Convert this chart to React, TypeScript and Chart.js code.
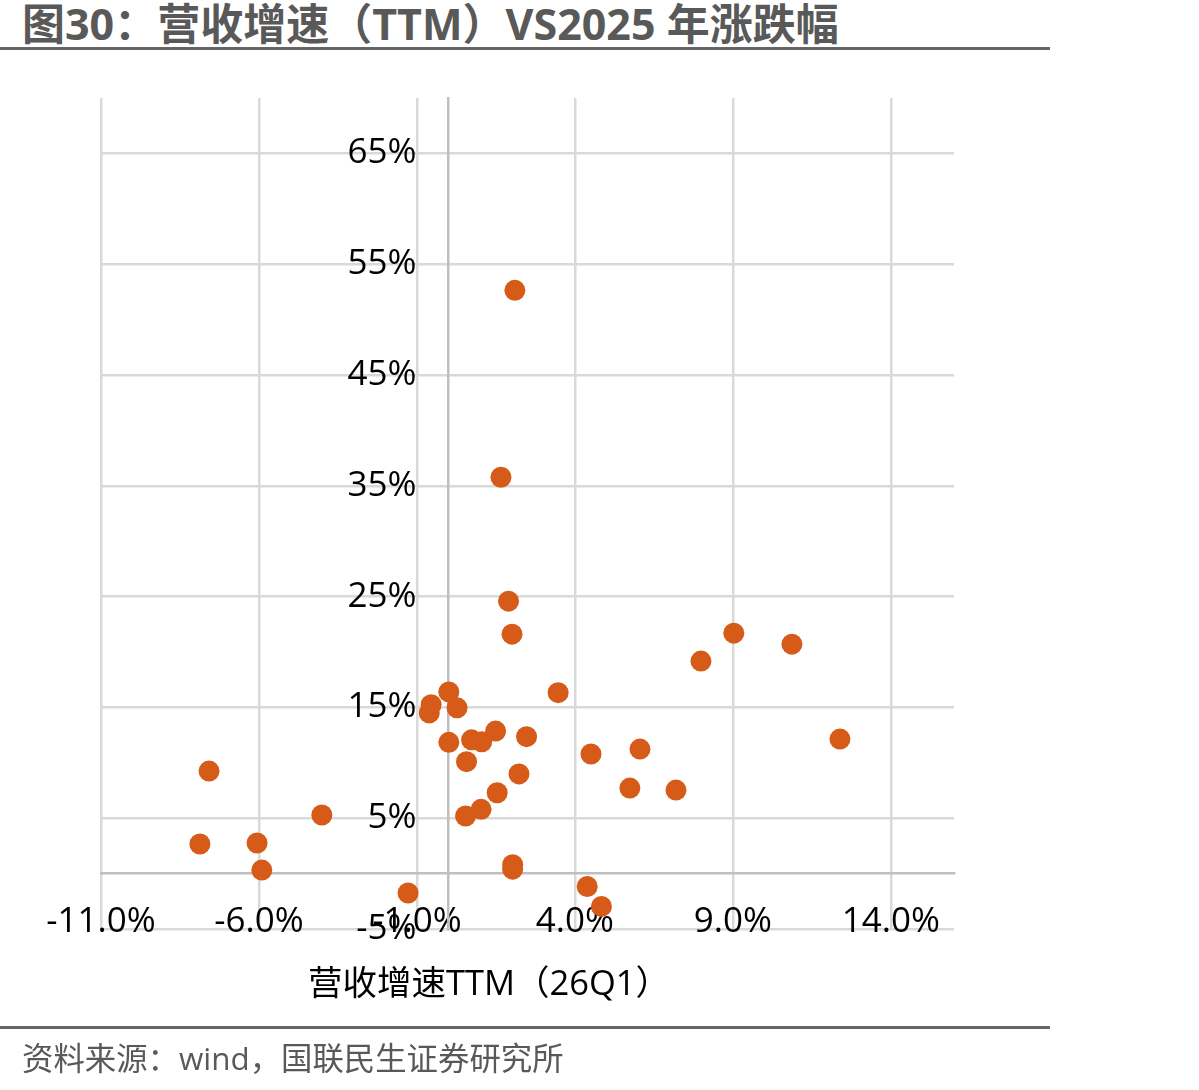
import React, { useEffect, useRef } from 'react';
import { Chart, registerables } from 'chart.js';

Chart.register(...registerables);

// 营收增速TTM（26Q1），%
const revenueGrowthTTM = [
  2.10, 1.66, 1.90, 2.01, 9.03, 10.87, 7.99, 3.47, 0.01, -0.55,
  -0.61, 0.27, 1.49, 2.47, 0.73, 1.05, 0.01, 12.39, 6.06, 4.51,
  0.57, 2.23, -7.58, 5.74, 7.20, 1.54, 1.03, 0.54, -4.01, -7.87,
  -6.06, -5.91, 2.03, 2.03, -1.28, 4.39, 4.84,
];
// 2025 年涨跌幅，%
const priceChange2025 = [
  52.64, 35.77, 24.59, 21.61, 21.70, 20.71, 19.18, 16.33, 16.40, 15.25,
  14.50, 14.96, 12.86, 12.36, 12.07, 11.90, 11.85, 12.14, 11.24, 10.79,
  10.10, 9.00, 9.25, 7.72, 7.54, 7.30, 5.80, 5.20, 5.29, 2.67,
  2.76, 0.32, 0.80, 0.40, -1.75, -1.16, -2.96,
];

const xTickValues = [-11, -6, -1, 4, 9, 14];
const yTickValues = [-5, 5, 15, 25, 35, 45, 55, 65];
const xMin = -11;
const xMax = 16;
const yMin = -5;
const yMax = 70;

const titleText = '图30：营收增速（TTM）VS2025 年涨跌幅';
const xAxisTitle = '营收增速TTM（26Q1）';
const sourceText = '资料来源：wind，国联民生证券研究所';

const FONT = '"Open Sans", "Noto Sans CJK SC", sans-serif';
const TICK_SIZE = 35;

// Draws the y tick labels to the left of the vertical axis (which crosses at x = 0)
const yLabelPlugin = {
  id: 'yLabelsAtAxis',
  beforeDatasetsDraw(chart: any) {
    const { ctx, scales } = chart;
    const xs = scales.x;
    const ys = scales.y;
    const x0 = xs.getPixelForValue(0) - 32;
    ctx.save();
    ctx.font = `${TICK_SIZE}px ${FONT}`;
    ctx.fillStyle = '#000000';
    ctx.textAlign = 'right';
    ctx.textBaseline = 'middle';
    ys.ticks.forEach((t: any) => {
      ctx.fillText(t.value + '%', x0, ys.getPixelForValue(t.value));
    });
    ctx.restore();
  },
};

export default function App() {
  const canvasRef = useRef<HTMLCanvasElement | null>(null);

  useEffect(() => {
    const canvas = canvasRef.current;
    if (!canvas) return;
    const points = revenueGrowthTTM.map((x, i) => ({ x, y: priceChange2025[i] }));
    const chart = new Chart(canvas, {
      type: 'scatter',
      data: {
        datasets: [
          {
            data: points,
            backgroundColor: '#D65A18',
            borderColor: '#D65A18',
            borderWidth: 0,
            pointRadius: 10.5,
            pointHoverRadius: 10.5,
          },
        ],
      },
      options: {
        animation: false,
        responsive: false,
        devicePixelRatio: 1,
        layout: { padding: { left: 101, top: 98, right: 245, bottom: 161 } },
        plugins: {
          legend: { display: false },
          tooltip: { enabled: false },
          title: { display: false },
        },
        scales: {
          x: {
            type: 'linear',
            min: xMin,
            max: xMax,
            position: { y: 0 },
            afterBuildTicks: (scale: any) => {
              scale.ticks = xTickValues.map((v) => ({ value: v }));
            },
            grid: { color: '#D9D9D9', lineWidth: 2.5, drawTicks: false },
            border: { display: true, color: '#BFBFBF', width: 2.5 },
            ticks: {
              padding: 27,
              maxRotation: 0,
              autoSkip: false,
              color: '#000000',
              font: { family: FONT, size: TICK_SIZE },
              callback: (v: any) => Number(v).toFixed(1) + '%',
            },
          },
          y: {
            type: 'linear',
            min: yMin,
            max: yMax,
            position: { x: 0 },
            afterBuildTicks: (scale: any) => {
              scale.ticks = yTickValues.map((v) => ({ value: v }));
            },
            grid: { color: '#D9D9D9', lineWidth: 2.5, drawTicks: false },
            border: { display: true, color: '#BFBFBF', width: 2.5 },
            ticks: {
              display: false,
              font: { family: FONT, size: TICK_SIZE },
            },
          },
        },
      },
      plugins: [yLabelPlugin],
    });
    return () => chart.destroy();
  }, []);

  return (
    <div style={{ position: 'absolute', left: 0, top: 0, width: 1199, height: 1090, background: '#fff', overflow: 'hidden' }}>
      <div
        style={{
          position: 'absolute', left: 22, top: 0, height: 48, lineHeight: '48px',
          fontFamily: FONT, fontWeight: 700, fontSize: 43, color: '#595959', whiteSpace: 'nowrap',
        }}
      >
        {titleText}
      </div>
      <div style={{ position: 'absolute', left: 0, top: 47, width: 1050, height: 3, background: '#666666' }} />
      <canvas ref={canvasRef} width={1199} height={1090} style={{ position: 'absolute', left: 0, top: 0, width: 1199, height: 1090 }} />
      <div
        style={{
          position: 'absolute', left: 0, top: 962, width: 978, height: 40, lineHeight: '40px', textAlign: 'center',
          fontFamily: FONT, fontSize: 34.5, color: '#000000', whiteSpace: 'nowrap',
        }}
      >
        {xAxisTitle}
      </div>
      <div style={{ position: 'absolute', left: 0, top: 1026, width: 1050, height: 3, background: '#666666' }} />
      <div
        style={{
          position: 'absolute', left: 22, top: 1038, height: 40, lineHeight: '40px',
          fontFamily: FONT, fontSize: 31.4, color: '#595959', whiteSpace: 'nowrap',
        }}
      >
        {sourceText}
      </div>
    </div>
  );
}
